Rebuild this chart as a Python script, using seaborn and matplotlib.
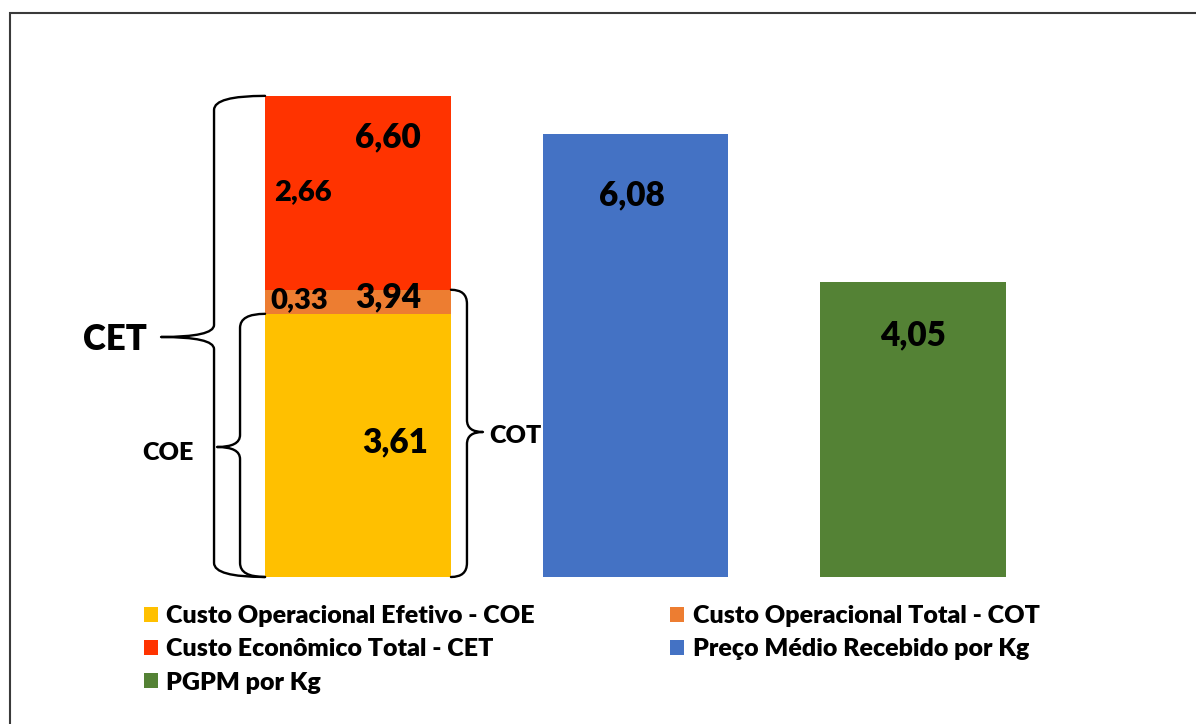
import matplotlib
matplotlib.use("Agg")
import matplotlib.pyplot as plt
import seaborn as sns
import numpy as np
from matplotlib.path import Path
from matplotlib.patches import PathPatch, Rectangle, Patch

sns.set_theme(style="white")
plt.rcParams['font.family'] = ['Lato', 'DejaVu Sans']
plt.rcParams['text.color'] = 'black'

# ---- data ----
categories = ["Custo", "Preço", "PGPM"]
coe = 3.61
cot_extra = 0.33
cet_extra = 2.66
cot_total = 3.94
cet_total = 6.60
preco = 6.08
pgpm = 4.05
legend_labels = ["Custo Operacional Efetivo - COE", "Custo Operacional Total - COT",
                 "Custo Econômico Total - CET", "Preço Médio Recebido por Kg",
                 "PGPM por Kg"]
colors = {"COE": "#FFC000", "COT": "#ED7D31", "CET": "#FF3300",
          "PRECO": "#4472C4", "PGPM": "#548235"}

W, H = 1196, 724
fig = plt.figure(figsize=(W / 100, H / 100), dpi=100)
ax = fig.add_axes([0, 0, 1, 1])

bw = 0.67
kw = dict(order=categories, width=bw, ax=ax, saturation=1, linewidth=0, edgecolor="none")
# layered stacked bar (overlay totals)
sns.barplot(x=[categories[0]], y=[cet_total], color=colors["CET"], **kw)
sns.barplot(x=[categories[0]], y=[cot_total], color=colors["COT"], **kw)
sns.barplot(x=[categories[0]], y=[coe], color=colors["COE"], **kw)
sns.barplot(x=[categories[1]], y=[preco], color=colors["PRECO"], **kw)
sns.barplot(x=[categories[2]], y=[pgpm], color=colors["PGPM"], **kw)

# map: center of bar 0 at 358 px, 277.5 px per category; baseline at 577 px, 72.9 px/unit
xs, ys = 277.5, 72.9
ax.set_xlim(-358 / xs, (W - 358) / xs)
ax.set_ylim(-(H - 577) / ys, 577 / ys)
ax.axis("off")

def px(dx):
    return dx / xs

def py(dy):
    return dy / ys

# ---- value labels ----
fw = "heavy"
big = 24
ax.text(0 + px(30), cet_total - py(41), "6,60", ha="center", va="center", fontsize=big, fontweight=fw)
ax.text(0 - px(55), cet_total - py(96), "2,66", ha="center", va="center", fontsize=21, fontweight=fw)
ax.text(0 - px(59), cot_total - py(10), "0,33", ha="center", va="center", fontsize=21, fontweight=fw)
ax.text(0 + px(30), cot_total - py(8), "3,94", ha="center", va="center", fontsize=big, fontweight=fw)
ax.text(0 + px(37), coe - py(129), "3,61", ha="center", va="center", fontsize=big, fontweight=fw)
ax.text(1 - px(4), preco - py(62), "6,08", ha="center", va="center", fontsize=big, fontweight=fw)
ax.text(2 + px(0), pgpm - py(54), "4,05", ha="center", va="center", fontsize=big, fontweight=fw)

# ---- braces ----
def brace(x_end, x_v, x_tip, y0, y1, ymid):
    r = py(14)
    rt = py(12)
    verts = [
        (x_end, y1),
        (x_v, y1), (x_v, y1 - r),
        (x_v, ymid + rt),
        (x_v, ymid), (x_tip, ymid),
        (x_v, ymid), (x_v, ymid - rt),
        (x_v, y0 + r),
        (x_v, y0), (x_end, y0),
    ]
    codes = [Path.MOVETO,
             Path.CURVE3, Path.CURVE3,
             Path.LINETO,
             Path.CURVE3, Path.CURVE3,
             Path.CURVE3, Path.CURVE3,
             Path.LINETO,
             Path.CURVE3, Path.CURVE3]
    ax.add_patch(PathPatch(Path(verts, codes), fill=False, lw=1.7, edgecolor="black",
                           capstyle="round", joinstyle="round"))

left_edge = 0 - bw / 2
right_edge = 0 + bw / 2
# CET brace
brace(left_edge, left_edge - px(51), left_edge - px(104), 0, cet_total, py(577 - 337))
ax.text(left_edge - px(118), py(577 - 340), "CET", ha="right", va="center", fontsize=25, fontweight=fw)
# COE brace
brace(left_edge, left_edge - px(25), left_edge - px(48), 0, coe, py(577 - 447))
ax.text(left_edge - px(71), py(577 - 453), "COE", ha="right", va="center", fontsize=18, fontweight=fw)
# COT brace
brace(right_edge, right_edge + px(16), right_edge + px(32), 0, cot_total, py(577 - 432))
ax.text(right_edge + px(38), py(577 - 436), "COT", ha="left", va="center", fontsize=18, fontweight=fw)

# ---- legend ----
h = {k: Patch(facecolor=v, edgecolor="none") for k, v in colors.items()}
handles = [h["COE"], h["CET"], h["PGPM"], h["COT"], h["PRECO"]]
labels = [legend_labels[0], legend_labels[2], legend_labels[4], legend_labels[1], legend_labels[3]]
fig.legend(handles, labels, ncol=2, loc="upper left", bbox_to_anchor=(134 / W, 1 - 595 / H),
           frameon=False, prop={"weight": "heavy", "size": 18},
           handlelength=0.55, handleheight=0.55, handletextpad=0.35, columnspacing=5.4,
           labelspacing=0.45, borderaxespad=0)

# ---- border ----
fig.patches.append(Rectangle((10 / W, -0.1), 1.2, 1 - 13 / H + 0.1, transform=fig.transFigure,
                             fill=False, edgecolor="#3a3a3a", lw=1.5))

fig.savefig("out.png", dpi=100)
